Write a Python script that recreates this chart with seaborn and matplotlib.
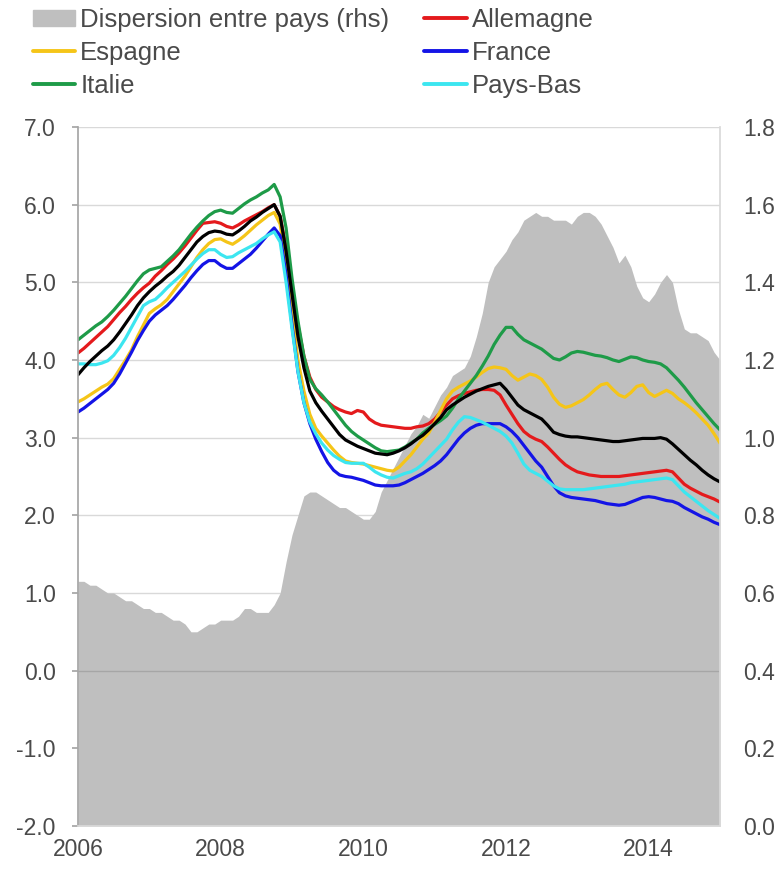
import numpy as np
import pandas as pd
import seaborn as sns
import matplotlib.pyplot as plt
from matplotlib.patches import Patch
from matplotlib.lines import Line2D

# Monthly values, Jan 2006 -> Jan 2015 (one row = one year)
dispersion = [  # rhs
    0.63, 0.63, 0.62, 0.62, 0.61, 0.60, 0.60, 0.59, 0.58, 0.58, 0.57, 0.56,
    0.56, 0.55, 0.55, 0.54, 0.53, 0.53, 0.52, 0.50, 0.50, 0.51, 0.52, 0.52,
    0.53, 0.53, 0.53, 0.54, 0.56, 0.56, 0.55, 0.55, 0.55, 0.57, 0.60, 0.68,
    0.75, 0.80, 0.85, 0.86, 0.86, 0.85, 0.84, 0.83, 0.82, 0.82, 0.81, 0.80,
    0.79, 0.79, 0.81, 0.86, 0.89, 0.92, 0.95, 0.98, 1.01, 1.03, 1.06, 1.05,
    1.08, 1.11, 1.13, 1.16, 1.17, 1.18, 1.21, 1.26, 1.32, 1.40, 1.44, 1.46,
    1.48, 1.51, 1.53, 1.56, 1.57, 1.58, 1.57, 1.57, 1.56, 1.56, 1.56, 1.55,
    1.57, 1.58, 1.58, 1.57, 1.55, 1.52, 1.49, 1.45, 1.47, 1.44, 1.39, 1.36,
    1.35, 1.37, 1.40, 1.42, 1.40, 1.33, 1.28, 1.27, 1.27, 1.26, 1.25, 1.22,
    1.20]

allemagne = [
    4.09, 4.15, 4.22, 4.29, 4.36, 4.43, 4.52, 4.61, 4.69, 4.78, 4.86, 4.93,
    4.99, 5.08, 5.15, 5.23, 5.30, 5.38, 5.47, 5.57, 5.67, 5.76, 5.77, 5.78,
    5.76, 5.72, 5.70, 5.74, 5.79, 5.83, 5.87, 5.91, 5.96, 6.00, 5.85, 5.45,
    4.95, 4.45, 4.05, 3.78, 3.62, 3.52, 3.46, 3.40, 3.36, 3.33, 3.31, 3.35,
    3.33, 3.24, 3.19, 3.16, 3.15, 3.14, 3.13, 3.12, 3.12, 3.14, 3.15, 3.18,
    3.24, 3.33, 3.42, 3.50, 3.54, 3.57, 3.59, 3.61, 3.62, 3.62, 3.61, 3.55,
    3.42, 3.30, 3.18, 3.08, 3.02, 2.98, 2.95, 2.88, 2.80, 2.72, 2.65, 2.60,
    2.56, 2.54, 2.52, 2.51, 2.50, 2.50, 2.50, 2.50, 2.51, 2.52, 2.53, 2.54,
    2.55, 2.56, 2.57, 2.58, 2.56, 2.48, 2.40, 2.35, 2.31, 2.27, 2.24, 2.21,
    2.17]

espagne = [
    3.46, 3.50, 3.55, 3.60, 3.65, 3.69, 3.76, 3.88, 4.00, 4.13, 4.30, 4.45,
    4.60, 4.66, 4.71, 4.78, 4.88, 4.98, 5.08, 5.20, 5.32, 5.42, 5.50, 5.55,
    5.56, 5.52, 5.49, 5.54, 5.60, 5.67, 5.74, 5.80, 5.86, 5.90, 5.75, 5.25,
    4.60, 4.00, 3.60, 3.30, 3.12, 3.02, 2.93, 2.84, 2.76, 2.70, 2.68, 2.67,
    2.66, 2.64, 2.62, 2.60, 2.58, 2.57, 2.62, 2.70, 2.78, 2.88, 2.98, 3.06,
    3.20, 3.35, 3.50, 3.60, 3.65, 3.69, 3.73, 3.78, 3.84, 3.89, 3.91, 3.90,
    3.88, 3.80, 3.74, 3.78, 3.82, 3.80, 3.75, 3.65, 3.52, 3.43, 3.39, 3.41,
    3.45, 3.49, 3.55, 3.62, 3.68, 3.70, 3.62, 3.55, 3.52, 3.58, 3.66, 3.68,
    3.58, 3.53, 3.57, 3.61, 3.57, 3.50, 3.45, 3.39, 3.32, 3.24, 3.16, 3.05,
    2.93]

france = [
    3.33, 3.38, 3.44, 3.50, 3.56, 3.62, 3.70, 3.82, 3.96, 4.10, 4.25, 4.38,
    4.50, 4.58, 4.64, 4.70, 4.78, 4.87, 4.96, 5.06, 5.15, 5.23, 5.28, 5.28,
    5.22, 5.18, 5.18, 5.24, 5.30, 5.36, 5.44, 5.53, 5.62, 5.70, 5.60, 5.10,
    4.45, 3.85, 3.45, 3.18, 2.98, 2.82, 2.68, 2.58, 2.52, 2.50, 2.49, 2.47,
    2.45, 2.42, 2.39, 2.38, 2.38, 2.38, 2.39, 2.42, 2.46, 2.50, 2.54, 2.59,
    2.64, 2.70, 2.78, 2.88, 2.98, 3.06, 3.12, 3.16, 3.18, 3.18, 3.18, 3.18,
    3.14, 3.08, 3.00, 2.90, 2.80, 2.70, 2.62, 2.50, 2.38, 2.29, 2.25, 2.23,
    2.22, 2.21, 2.20, 2.19, 2.17, 2.15, 2.14, 2.13, 2.14, 2.17, 2.20, 2.23,
    2.24, 2.23, 2.21, 2.19, 2.18, 2.15, 2.10, 2.06, 2.02, 1.98, 1.95, 1.91,
    1.88]

italie = [
    4.26, 4.32, 4.38, 4.44, 4.49, 4.56, 4.64, 4.73, 4.82, 4.92, 5.02, 5.11,
    5.16, 5.18, 5.20, 5.27, 5.34, 5.42, 5.52, 5.62, 5.71, 5.79, 5.86, 5.91,
    5.93, 5.90, 5.89, 5.95, 6.01, 6.06, 6.10, 6.15, 6.19, 6.26, 6.10, 5.70,
    5.05, 4.50, 4.05, 3.75, 3.63, 3.55, 3.46, 3.36, 3.26, 3.16, 3.08, 3.02,
    2.97, 2.92, 2.87, 2.83, 2.82, 2.83, 2.84, 2.88, 2.93, 2.98, 3.06, 3.12,
    3.17, 3.22, 3.28, 3.38, 3.50, 3.60, 3.70, 3.80, 3.92, 4.05, 4.20, 4.32,
    4.42, 4.42, 4.33, 4.26, 4.22, 4.18, 4.14, 4.08, 4.02, 4.00, 4.04, 4.09,
    4.11, 4.10, 4.08, 4.06, 4.05, 4.03, 4.00, 3.98, 4.01, 4.04, 4.03, 4.00,
    3.98, 3.97, 3.95, 3.90, 3.82, 3.74, 3.65, 3.55, 3.45, 3.36, 3.27, 3.18,
    3.10]

pays_bas = [
    3.95, 3.95, 3.94, 3.94, 3.96, 3.99, 4.06, 4.16, 4.28, 4.42, 4.56, 4.70,
    4.75, 4.78, 4.85, 4.93, 5.00, 5.07, 5.14, 5.22, 5.30, 5.37, 5.42, 5.42,
    5.36, 5.32, 5.33, 5.38, 5.42, 5.46, 5.50, 5.56, 5.61, 5.65, 5.52, 5.00,
    4.40, 3.85, 3.45, 3.20, 3.05, 2.93, 2.84, 2.77, 2.72, 2.68, 2.67, 2.67,
    2.67, 2.62, 2.56, 2.52, 2.49, 2.48, 2.51, 2.54, 2.56, 2.60, 2.66, 2.74,
    2.82, 2.90, 2.98, 3.10, 3.20, 3.27, 3.26, 3.23, 3.20, 3.16, 3.12, 3.08,
    3.02, 2.93, 2.80, 2.66, 2.58, 2.54, 2.50, 2.44, 2.38, 2.34, 2.33, 2.33,
    2.33, 2.33, 2.34, 2.35, 2.36, 2.37, 2.38, 2.39, 2.40, 2.42, 2.43, 2.44,
    2.45, 2.46, 2.47, 2.48, 2.46, 2.38, 2.30, 2.24, 2.18, 2.12, 2.06, 2.01,
    1.96]

zone_euro = [
    3.81, 3.90, 3.98, 4.05, 4.12, 4.18, 4.26, 4.36, 4.47, 4.58, 4.70, 4.80,
    4.88, 4.95, 5.01, 5.08, 5.14, 5.22, 5.32, 5.42, 5.52, 5.59, 5.64, 5.66,
    5.65, 5.62, 5.61, 5.66, 5.72, 5.79, 5.84, 5.90, 5.95, 6.00, 5.85, 5.40,
    4.85, 4.30, 3.90, 3.60, 3.45, 3.34, 3.24, 3.14, 3.04, 2.97, 2.93, 2.89,
    2.86, 2.83, 2.80, 2.79, 2.78, 2.80, 2.83, 2.87, 2.92, 2.98, 3.03, 3.10,
    3.18, 3.26, 3.36, 3.42, 3.47, 3.52, 3.56, 3.60, 3.63, 3.66, 3.68, 3.70,
    3.62, 3.52, 3.42, 3.36, 3.32, 3.28, 3.24, 3.16, 3.07, 3.04, 3.02, 3.01,
    3.01, 3.00, 2.99, 2.98, 2.97, 2.96, 2.95, 2.95, 2.96, 2.97, 2.98, 2.99,
    2.99, 2.99, 3.00, 2.98, 2.92, 2.85, 2.78, 2.71, 2.65, 2.58, 2.52, 2.47,
    2.43]

months = 2006 + np.arange(len(dispersion)) / 12
year_ticks = [2006, 2008, 2010, 2012, 2014]

series = {
    'Allemagne': allemagne,
    'Espagne': espagne,
    'France': france,
    'Italie': italie,
    'Pays-Bas': pays_bas,
    'Zone euro': zone_euro,
}
colors = {
    'Allemagne': '#E41A1C',
    'Espagne': '#F5C518',
    'France': '#1414E6',
    'Italie': '#1E9B48',
    'Pays-Bas': '#3CE6F0',
    'Zone euro': '#000000',
}

df = pd.DataFrame({
    'date': np.tile(months, len(series)),
    'pays': np.repeat(list(series.keys()), len(months)),
    'taux': np.concatenate(list(series.values())),
})

sns.set_theme(style="white")
plt.rcParams['font.family'] = ['Liberation Sans', 'DejaVu Sans']
txt = '#4A4A4A'

fig = plt.figure(figsize=(7.81, 8.71), dpi=100)
ax = fig.add_axes([0.0999, 0.0517, 0.822, 0.8025])
ax2 = ax.twinx()
ax.set_zorder(ax2.get_zorder() + 1)
ax.patch.set_visible(False)

# grey area on the right axis, grid behind it
ax2.fill_between(months, 0, dispersion, color='#BFBFBF', lw=0, zorder=2)
ax2.set_ylim(0, 1.8)
ax2.set_yticks(np.arange(0, 1.81, 0.2))
ax2.set_yticklabels([f'{v:.1f}' for v in np.arange(0, 1.81, 0.2)])
ax2.set_axisbelow(True)
ax2.grid(True, axis='both', color='#D9D9D9', lw=1)
ax2.tick_params(axis='y', length=0, pad=17, labelsize=16.5, labelcolor=txt)
for s in ax2.spines.values():
    s.set_visible(False)

sns.lineplot(data=df, x='date', y='taux', hue='pays', palette=colors,
             hue_order=list(series.keys()), estimator=None, lw=2.3,
             legend=False, ax=ax)
ax.axhline(0, color='#A6A6A6', lw=1, zorder=1)

ax.set_xlim(2006, 2015)
ax.set_ylim(-2, 7)
ax.set_yticks(np.arange(-2, 7.1, 1))
ax.set_yticklabels([f'{v:.1f}' for v in np.arange(-2, 7.1, 1)])
ax.set_xticks(year_ticks)
ax.set_xticklabels([str(y) for y in year_ticks])
ax2.set_xticks(year_ticks)
ax.set_xlabel('')
ax.set_ylabel('')
ax.tick_params(axis='y', left=True, length=4, color='#A6A6A6', pad=12,
               labelsize=16.5, labelcolor=txt)
ax.tick_params(axis='x', length=0, pad=9, labelsize=16.5, labelcolor=txt)
ax.spines['top'].set_visible(False)
ax.spines['left'].set_color('#A6A6A6')
ax.spines['bottom'].set_color('#D9D9D9')
ax.spines['right'].set_color('#D9D9D9')

handles = [
    Patch(color='#BFBFBF', label='Dispersion entre pays (rhs)'),
    Line2D([], [], color=colors['Espagne'], lw=2.8, label='Espagne'),
    Line2D([], [], color=colors['Italie'], lw=2.8, label='Italie'),
    Line2D([], [], color=colors['Allemagne'], lw=2.8, label='Allemagne'),
    Line2D([], [], color=colors['France'], lw=2.8, label='France'),
    Line2D([], [], color=colors['Pays-Bas'], lw=2.8, label='Pays-Bas'),
]
fig.legend(handles=handles, ncol=2, loc='upper left',
           bbox_to_anchor=(0.042, 0.991), frameon=False, fontsize=18.5,
           handlelength=1.65, handleheight=0.6, handletextpad=0.2,
           columnspacing=1.35, labelspacing=0.35, borderpad=0,
           borderaxespad=0, labelcolor=txt)

fig.savefig('out.png', dpi=100)
